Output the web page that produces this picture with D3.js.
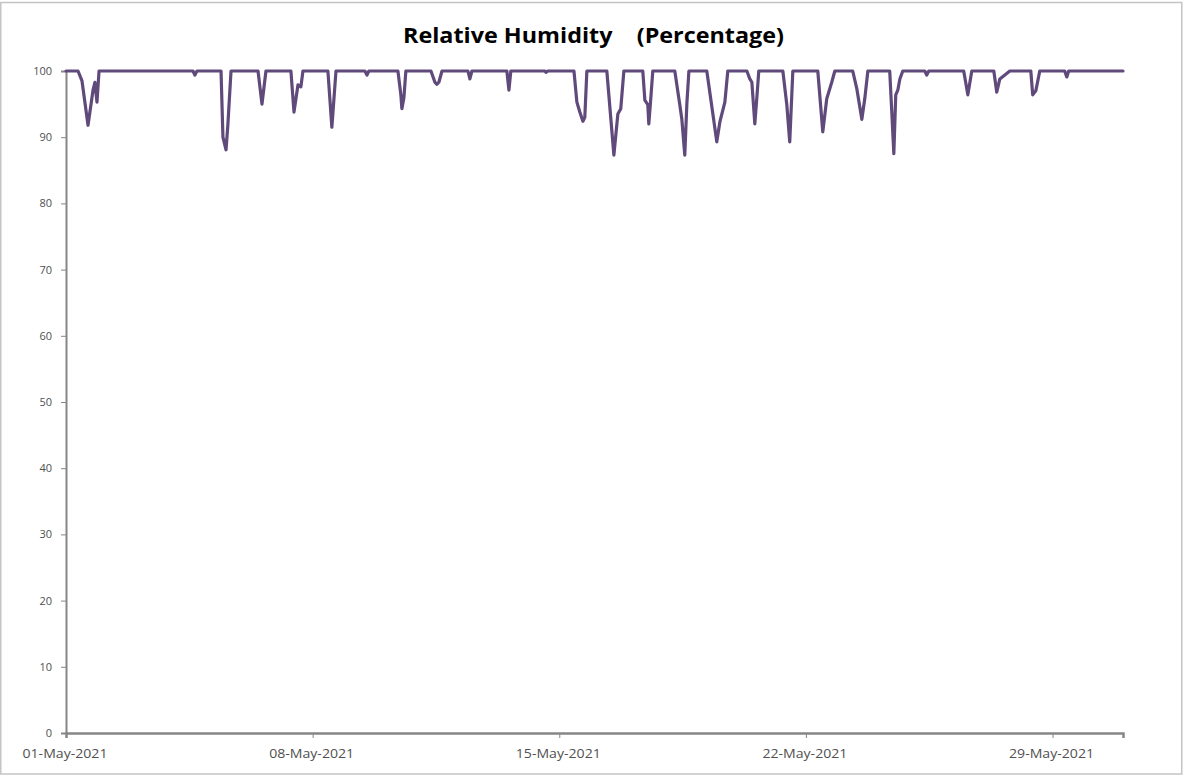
<!DOCTYPE html>
<html>
<head>
<meta charset="utf-8">
<script src="https://cdn.jsdelivr.net/npm/d3@7"></script>
<style>
  html, body { margin: 0; padding: 0; background: #fff; }
  svg { display: block; }
</style>
</head>
<body>
<svg id="chart" width="1184" height="776"></svg>
<script>
// Hours since 01-May-2021 00:00 (keypoints)
const timeHours = [
  0, 8.2, 10.9, 15.0, 18.4, 19.7, 21.1, 22.5,
  86.5, 87.8, 89.2,
  105.6, 106.9, 109.0, 110.3, 112.4,
  130.8, 133.5, 136.2,
  153.2, 155.3, 158.0, 160.0, 161.4,
  178.4, 181.1, 183.9,
  203.6, 205.0, 206.3,
  226.1, 228.1, 228.8, 230.2, 231.5,
  248.6, 251.3, 252.7, 254.0, 256.1,
  273.8, 275.1, 276.5,
  300.3, 301.7, 303.0,
  326.2, 326.9, 328.2,
  346.0, 348.0, 350.0, 352.1, 353.4, 354.8,
  368.4, 373.2, 375.9, 377.9, 380.0,
  392.9, 394.3, 396.3, 397.0, 398.4, 399.7,
  414.7, 418.1, 419.5, 421.5, 422.9, 424.3,
  436.5, 443.3, 445.4, 448.8, 450.8,
  463.8, 465.8, 467.2, 469.2, 470.6, 471.9,
  488.3, 491.0, 493.0, 495.1,
  512.1, 515.5, 518.2, 521.6, 523.7,
  535.9, 538.7, 542.1, 544.1, 546.2,
  561.1, 562.5, 563.9, 565.2, 566.6, 568.0, 570.0,
  585.0, 586.3, 587.7,
  611.5, 614.3, 617.0,
  632.0, 634.0, 636.1, 639.5, 642.9,
  657.2, 658.5, 660.6, 663.3,
  680.3, 681.7, 683.0,
  720
];
const humidity = [
  100, 100, 98.5, 91.8, 97.1, 98.3, 95.3, 100,
  100, 99.4, 100,
  100, 90.0, 88.1, 92.0, 100,
  100, 95.0, 100,
  100, 93.8, 97.9, 97.6, 100,
  100, 91.5, 100,
  100, 99.4, 100,
  100, 96.4, 94.3, 96.0, 100,
  100, 98.3, 98.0, 98.3, 100,
  100, 98.8, 100,
  100, 97.1, 100,
  100, 99.8, 100,
  100, 95.3, 93.8, 92.4, 93.0, 100,
  100, 87.3, 93.5, 94.3, 100,
  100, 95.6, 94.9, 92.0, 96.0, 100,
  100, 94.9, 92.7, 87.3, 95.0, 100,
  100, 89.3, 92.3, 95.3, 100,
  100, 98.8, 98.3, 92.0, 96.0, 100,
  100, 94.9, 89.3, 100,
  100, 90.8, 95.8, 98.3, 100,
  100, 97.3, 92.7, 95.8, 100,
  100, 93.8, 87.5, 96.4, 97.1, 98.8, 100,
  100, 99.4, 100,
  100, 96.4, 100,
  100, 96.8, 98.8, 99.4, 100,
  100, 96.4, 97.0, 100,
  100, 99.1, 100,
  100
];
const yTicks = [0, 10, 20, 30, 40, 50, 60, 70, 80, 90, 100];
const xTickLabels = ["01-May-2021", "08-May-2021", "15-May-2021", "22-May-2021", "29-May-2021"];
const titleText = "Relative Humidity\u00a0\u00a0\u00a0 (Percentage)";

const start = new Date(2021, 4, 1);
const end = new Date(2021, 4, 31);
const points = timeHours.map((h, i) => ({ t: new Date(start.getTime() + h * 3600e3), v: humidity[i] }));
const tickDates = xTickLabels.map(s => d3.timeParse("%d-%b-%Y")(s));

const svg = d3.select("#chart");
const W = 1184, H = 776;
const m = { left: 66, right: 1123, top: 71, bottom: 733 };
const FONT = "'Open Sans', 'Liberation Sans', sans-serif";

// frame
svg.append("rect").attr("x", 0.75).attr("y", 2.5).attr("width", W - 3).attr("height", H - 4.5)
  .attr("fill", "#fff").attr("stroke", "#c4c4c4").attr("stroke-width", 1.5);

const x = d3.scaleTime().domain([start, end]).range([m.left, m.right]);
const y = d3.scaleLinear().domain([0, 100]).range([m.bottom, m.top]);

// title
svg.append("text").attr("x", 593.5).attr("y", 43).attr("text-anchor", "middle")
  .attr("font-family", FONT)
  .attr("font-weight", "bold").attr("font-size", 22).attr("fill", "#000")
  .attr("textLength", 381).attr("lengthAdjust", "spacingAndGlyphs")
  .text(titleText);

// y axis
const yAxis = d3.axisLeft(y).tickValues(yTicks).tickSize(5).tickPadding(9).tickFormat(d3.format("d"));
const gy = svg.append("g").attr("transform", `translate(${m.left},0)`).call(yAxis);
gy.select(".domain").attr("stroke", "#868686").attr("stroke-width", 2);
gy.selectAll(".tick line").attr("stroke", "#868686");
gy.selectAll(".tick text").attr("font-family", FONT)
  .attr("font-size", 11).attr("fill", "#505050");

// x axis
const xAxis = d3.axisBottom(x).tickValues(tickDates).tickSize(5).tickPadding(11)
  .tickFormat((d, i) => xTickLabels[i]);
const gx = svg.append("g").attr("transform", `translate(0,${m.bottom})`).call(xAxis);
gx.select(".domain").attr("stroke", "#868686").attr("stroke-width", 2.5);
gx.selectAll(".tick line").attr("stroke", "#868686");
gx.selectAll(".tick text").attr("font-family", FONT)
  .attr("font-size", 12.5).attr("fill", "#505050")
  .attr("dx", -1.5)
  .attr("textLength", 85).attr("lengthAdjust", "spacingAndGlyphs");

// line
const line = d3.line().x(d => x(d.t)).y(d => y(d.v));
svg.append("path").datum(points).attr("d", line)
  .attr("fill", "none").attr("stroke", "#604a7b").attr("stroke-width", 3.2)
  .attr("stroke-linejoin", "round").attr("stroke-linecap", "round");
</script>
</body>
</html>
